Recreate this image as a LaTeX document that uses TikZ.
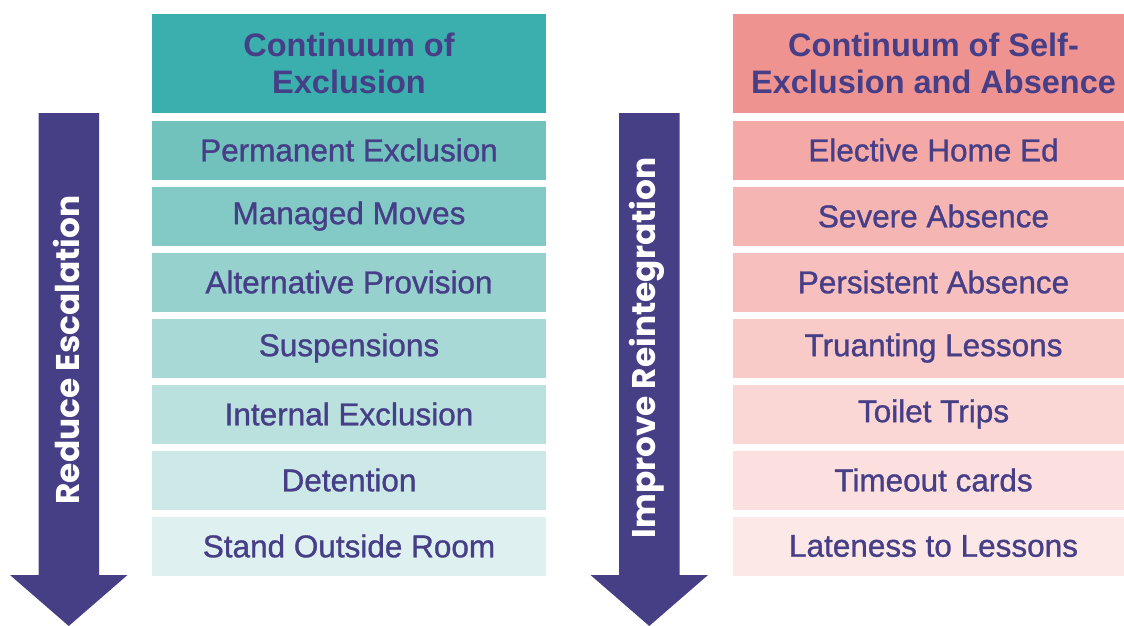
\documentclass[tikz,border=0pt]{standalone}
\usepackage{fontspec}
\setmainfont{Liberation Sans}
\newfontfamily\rowfont{Liberation Sans}[FakeBold=1.0]
\newfontfamily\arrowfont{Poppins}[UprightFont=* SemiBold,BoldFont=* Bold]
\definecolor{txt}{HTML}{463E87}
\definecolor{arr}{HTML}{463F86}
\definecolor{thead}{HTML}{3BAEAE}
\definecolor{phead}{HTML}{EF9390}
\definecolor{t1}{HTML}{71C1BD}
\definecolor{t2}{HTML}{83C9C5}
\definecolor{t3}{HTML}{96D1CE}
\definecolor{t4}{HTML}{A8D9D6}
\definecolor{t5}{HTML}{BAE1DE}
\definecolor{t6}{HTML}{CCE8E7}
\definecolor{t7}{HTML}{DEF0EF}
\definecolor{p1}{HTML}{F4A9A7}
\definecolor{p2}{HTML}{F5B5B3}
\definecolor{p3}{HTML}{F7C0BE}
\definecolor{p4}{HTML}{F8CBC9}
\definecolor{p5}{HTML}{FAD6D4}
\definecolor{p6}{HTML}{FBE0DF}
\definecolor{p7}{HTML}{FCE8E6}
\tikzset{
  row/.style={inner sep=0pt, minimum height=59pt, text=txt, font=\fontsize{31.5}{34}\selectfont\rowfont},
  lrow/.style={row, minimum width=394pt},
  rrow/.style={row, minimum width=401pt},
  head/.style={inner sep=0pt, minimum height=99pt, text=txt, align=center, font=\fontsize{32.5}{37}\selectfont\bfseries},
  arrowtext/.style={text=white, rotate=90, font=\fontsize{32.8}{34}\selectfont\arrowfont\bfseries},
}
\begin{document}
\begin{tikzpicture}[x=1pt,y=-1pt]
\useasboundingbox (0,0) rectangle (1124,626);
\begin{scope}
\clip (0,0) rectangle (1124,626);
% arrows
\fill[arr] (38.5,113) -- (99,113) -- (99,575) -- (127.5,575) -- (68.75,626) -- (10,575) -- (38.5,575) -- cycle;
\fill[arr] (619,113) -- (679.5,113) -- (679.5,575) -- (708,575) -- (649.25,626) -- (590.5,575) -- (619,575) -- cycle;
\node[arrowtext] (la) at (66,350) {Reduce Escalation};
\node[arrowtext] (ra) at (647,348) {Improve Reintegration};
% left column
\node[head, fill=thead, minimum width=394pt] (lh) at (349,63.5) {Continuum of\\Exclusion};
\node[lrow, fill=t1] (l1) at (349,150) {Permanent Exclusion};
\node[lrow, fill=t2] (l2) at (349,216) {Managed Moves};
\node[lrow, fill=t3] (l3) at (349,282) {Alternative Provision};
\node[lrow, fill=t4] (l4) at (349,348) {Suspensions};
\node[lrow, fill=t5] (l5) at (349,414) {Internal Exclusion};
\node[lrow, fill=t6] (l6) at (349,480) {Detention};
\node[lrow, fill=t7] (l7) at (349,546) {Stand Outside Room};
% right column
\node[head, fill=phead, minimum width=401pt] (rh) at (933.5,63.5) {Continuum of Self-\\Exclusion and Absence};
\node[rrow, fill=p1] (r1) at (933.5,150) {Elective Home Ed};
\node[rrow, fill=p2] (r2) at (933.5,216) {Severe Absence};
\node[rrow, fill=p3] (r3) at (933.5,282) {Persistent Absence};
\node[rrow, fill=p4] (r4) at (933.5,348) {Truanting Lessons};
\node[rrow, fill=p5] (r5) at (933.5,414) {Toilet Trips};
\node[rrow, fill=p6] (r6) at (933.5,480) {Timeout cards};
\node[rrow, fill=p7] (r7) at (933.5,546) {Lateness to Lessons};
\end{scope}
\end{tikzpicture}
\end{document}
